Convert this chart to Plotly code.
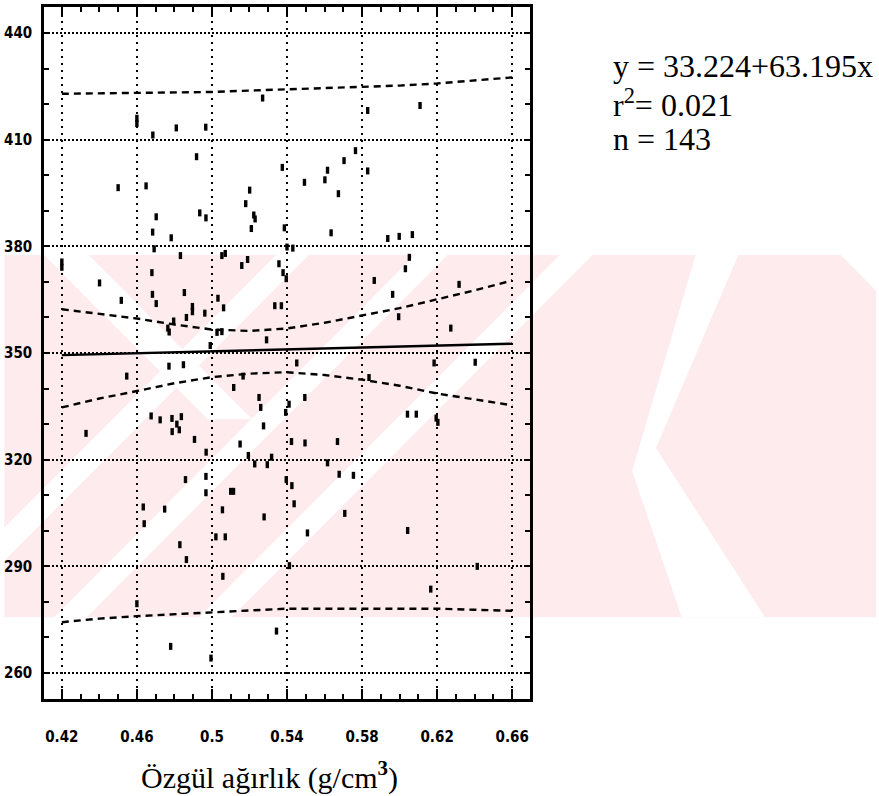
import plotly.graph_objects as go

# Specific gravity (g/cm3) and strength of the 143 samples
density = [
    0.450, 0.4649, 0.460, 0.460, 0.4685, 0.481, 0.4967, 0.4918, 0.4703, 0.4684,
    0.4783, 0.4935, 0.4968, 0.527, 0.5201, 0.518, 0.5223, 0.523, 0.521, 0.5375,
    0.5386, 0.583, 0.6109, 0.5493, 0.5602, 0.5616, 0.5704, 0.5765, 0.583, 0.5674,
    0.5635, 0.5937, 0.5998, 0.6068, 0.420, 0.4401, 0.4517, 0.468, 0.4683, 0.4703,
    0.4692, 0.4832, 0.4853, 0.4896, 0.4896, 0.4864, 0.4962, 0.4796, 0.4765, 0.4772,
    0.5053, 0.5071, 0.5159, 0.519, 0.5357, 0.5379, 0.5396, 0.5032, 0.5062, 0.5335,
    0.537, 0.5291, 0.5027, 0.5053, 0.4991, 0.4771, 0.4848, 0.4546, 0.5116, 0.5166,
    0.5251, 0.526, 0.5411, 0.5393, 0.5452, 0.4676, 0.4724, 0.4787, 0.4837, 0.4813,
    0.4788, 0.4826, 0.4329, 0.4907, 0.515, 0.5275, 0.5424, 0.4969, 0.5194, 0.5228,
    0.5295, 0.5318, 0.540, 0.5431, 0.6052, 0.6031, 0.5865, 0.5963, 0.6317, 0.5995,
    0.6273, 0.5495, 0.6184, 0.6403, 0.5837, 0.6042, 0.6089, 0.6195, 0.6204, 0.5496,
    0.5669, 0.5616, 0.5678, 0.5754, 0.4859, 0.4968, 0.4968, 0.4634, 0.4639, 0.4748,
    0.4829, 0.4864, 0.5056, 0.510, 0.5115, 0.5021, 0.5071, 0.5058, 0.5278, 0.5396,
    0.5426, 0.5438, 0.5413, 0.460, 0.478, 0.4995, 0.5344, 0.5708, 0.5509, 0.6043,
    0.6166, 0.6414, 0.420,
]
strength = [
    396.5, 397.0, 414.5, 416.0, 411.3, 413.3, 413.5, 405.2, 388.3, 384.0,
    382.4, 389.4, 388.0, 421.7, 395.8, 392.0, 388.8, 387.7, 385.0, 402.2,
    385.2, 418.2, 419.6, 398.0, 398.7, 401.4, 404.1, 406.9, 401.2, 394.8,
    383.8, 382.2, 382.8, 383.3, 374.1, 369.7, 364.8, 372.6, 366.5, 363.9,
    379.3, 377.4, 367.0, 363.1, 361.6, 360.0, 361.2, 359.0, 357.0, 355.9,
    377.4, 378.0, 374.6, 376.3, 375.1, 372.6, 370.9, 365.4, 362.7, 363.3,
    363.3, 353.7, 355.8, 356.0, 352.1, 346.3, 346.7, 343.5, 340.3, 343.5,
    337.5, 334.7, 335.6, 333.3, 347.2, 332.3, 331.2, 331.6, 332.1, 330.0,
    327.9, 328.4, 327.4, 325.7, 324.4, 329.5, 325.1, 322.1, 321.2, 318.8,
    318.6, 320.7, 379.8, 379.5, 376.9, 373.7, 370.4, 366.5, 369.3, 360.2,
    357.0, 337.5, 347.2, 347.4, 343.1, 332.8, 332.8, 331.7, 330.5, 324.7,
    325.1, 319.1, 315.9, 315.6, 314.4, 315.3, 310.7, 306.7, 302.0, 306.1,
    296.1, 291.9, 305.9, 311.1, 311.1, 298.3, 298.3, 287.2, 303.9, 314.4,
    312.7, 307.6, 290.2, 279.5, 267.5, 264.2, 271.8, 304.9, 299.4, 300.1,
    283.6, 290.0, 375.6,
]

# Fitted regression line
fit_x = [0.42, 0.66]
fit_y = [349.4, 352.6]

# Confidence band of the mean and prediction band
band_x = [0.42, 0.44, 0.46, 0.48, 0.50, 0.52, 0.54, 0.56, 0.58, 0.60, 0.62, 0.64, 0.66]
ci_upper = [362.3, 361.0, 359.7, 358.0, 356.6, 356.2, 356.9, 358.5, 360.5, 362.6, 365.1, 367.6, 370.4]
ci_lower = [334.7, 337.2, 339.3, 341.5, 343.2, 344.2, 344.6, 343.8, 342.5, 340.8, 338.6, 337.0, 335.3]
pi_upper = [422.9, 423.0, 423.1, 423.2, 423.4, 423.8, 424.1, 424.4, 424.8, 425.2, 425.8, 426.6, 427.5]
pi_lower = [274.3, 275.3, 276.0, 276.6, 277.1, 277.6, 278.1, 278.2, 278.1, 278.1, 278.1, 277.8, 277.5]

x_ticks = [0.42, 0.46, 0.50, 0.54, 0.58, 0.62, 0.66]
x_tick_labels = ["0.42", "0.46", "0.5", "0.54", "0.58", "0.62", "0.66"]
y_ticks = [260, 290, 320, 350, 380, 410, 440]
y_tick_labels = ["260", "290", "320", "350", "380", "410", "440"]

equation_lines = ["y = 33.224+63.195x", "r<sup>2</sup>= 0.021", "n = 143"]
x_title = "Özgül ağırlık (g/cm<sup><b>3</b></sup>)"

W, H = 879, 796
PLOT_L, PLOT_R, PLOT_T, PLOT_B = 40, 530, 4, 699


def px(x):
    return (x - PLOT_L) / (PLOT_R - PLOT_L)


def py(y):
    return (PLOT_B - y) / (PLOT_B - PLOT_T)


def poly(points):
    return "M " + " L ".join(f"{px(a):.4f},{py(b):.4f}" for a, b in points) + " Z"


# Light pink emblem band behind the chart
BAND_TOP, BAND_BOT = 253, 617
PINK = "#fdebee"

shapes = [dict(type="rect", xref="paper", yref="paper", layer="below",
               x0=px(0), x1=px(W), y0=py(BAND_BOT), y1=py(BAND_TOP),
               fillcolor=PINK, line=dict(width=0))]

span = BAND_BOT - BAND_TOP
white_polys = []
# rising stripes
for b, w in [(-90, 33), (50, 33), (196, 33)]:
    white_polys.append([(b, BAND_BOT), (b + w, BAND_BOT), (b + w + span, BAND_TOP), (b + span, BAND_TOP)])
# notch of the emblem
white_polys.append([(697, BAND_TOP), (740, BAND_TOP), (657, 447), (767, BAND_BOT), (683, BAND_BOT), (633, 470)])
# upper right corner
white_polys.append([(843, BAND_TOP), (W + 5, BAND_TOP), (W + 5, BAND_TOP + 41)])
# falling stripe on the left
white_polys.append([(40, BAND_TOP), (85, BAND_TOP), (250, 418), (205, 418)])
for p in white_polys:
    shapes.append(dict(type="path", xref="paper", yref="paper", layer="below",
                       path=poly(p), fillcolor="white", line=dict(width=0)))

fig = go.Figure()

dash_style = dict(color="black", width=2.4, dash="7px,5px")
for ys in (pi_upper, pi_lower, ci_upper, ci_lower):
    fig.add_trace(go.Scatter(x=band_x, y=ys, mode="lines", line=dash_style,
                             hoverinfo="skip", showlegend=False))

fig.add_trace(go.Scatter(x=fit_x, y=fit_y, mode="lines",
                         line=dict(color="black", width=2.4), showlegend=False))

fig.add_trace(go.Scatter(
    x=density, y=strength, mode="markers", showlegend=False,
    marker=dict(symbol="line-ns", size=5, color="black",
                line=dict(color="black", width=3.4)),
))

tick_font = dict(family="Liberation Sans Narrow, DejaVu Sans Condensed, Arial Narrow, sans-serif",
                 size=15, color="black", weight="bold")

fig.update_xaxes(
    range=[0.4105, 0.6695], tickvals=x_ticks, ticktext=x_tick_labels,
    showgrid=True, gridcolor="black", gridwidth=1.5, griddash="2px,5px",
    showline=True, linecolor="black", linewidth=2.5, mirror="allticks",
    ticks="inside", ticklen=10, tickwidth=2, tickcolor="black",
    minor=dict(dtick=0.01, tick0=0.42, ticks="inside", ticklen=5, tickwidth=1.5,
               tickcolor="black", showgrid=False),
    tickfont=tick_font, ticklabelstandoff=22, zeroline=False,
)
fig.update_yaxes(
    range=[252.7, 447.3], tickvals=y_ticks, ticktext=y_tick_labels,
    showgrid=True, gridcolor="black", gridwidth=1.5, griddash="2px,2px",
    showline=True, linecolor="black", linewidth=2.5, mirror="allticks",
    ticks="inside", ticklen=6, tickwidth=2, tickcolor="black",
    minor=dict(dtick=10, tick0=260, ticks="inside", ticklen=5, tickwidth=1.5,
               tickcolor="black", showgrid=False),
    tickfont=tick_font, ticklabelstandoff=6, zeroline=False,
)

title_font = dict(family="Liberation Serif, Times New Roman, serif", size=30, color="black")
eq_font = dict(family="Liberation Serif, Times New Roman, serif", size=32, color="black")
annotations = [dict(text=x_title, x=px(267), y=py(776), xref="paper", yref="paper",
                    showarrow=False, xanchor="center", yanchor="middle", font=title_font)]
for i, line in enumerate(equation_lines):
    annotations.append(dict(text=line, x=px(612), y=py(63 + 37 * i), xref="paper", yref="paper",
                            showarrow=False, xanchor="left", yanchor="middle", font=eq_font))

fig.update_layout(
    width=W, height=H, autosize=False,
    margin=dict(l=PLOT_L, r=W - PLOT_R, t=PLOT_T, b=H - PLOT_B),
    paper_bgcolor="white", plot_bgcolor="rgba(0,0,0,0)",
    shapes=shapes, annotations=annotations,
)

fig.write_html("out.html")
